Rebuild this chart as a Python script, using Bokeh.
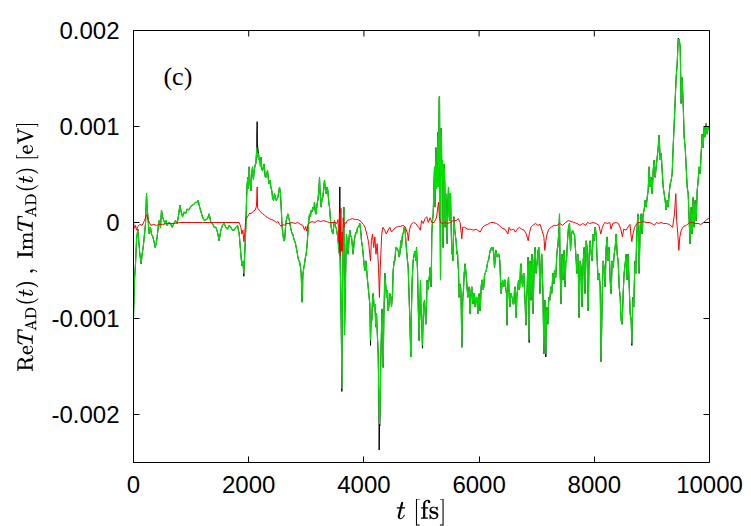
import math
from bokeh.plotting import figure
from bokeh.models import Range1d, FixedTicker, Label, ColumnDataSource, TeX
from bokeh.embed import file_html
from bokeh.resources import INLINE

# values in units of 1e-3 eV, time in fs
SCALE = 1e-3

green_a = [(0,-0.99),(17,-0.60),(35,-0.43),(52,-0.19),(64,-0.12),(75,-0.07),(93,-0.20),(110,-0.33),
           (133,-0.43),(150,-0.33),(168,-0.26),(191,-0.12),(208,-0.02),(226,0.30),(237,0.16),(255,0.02),
           (272,-0.12),(295,-0.05),(312,-0.12),(336,-0.15),(353,-0.19),(376,-0.26),(394,-0.22),(411,-0.15),
           (428,-0.05),(446,0.02),(469,-0.05),(486,0.13),(503,0.06),(527,0.02),(544,-0.01),(567,0.02),
           (584,-0.03),(613,0.00),(642,-0.01),(671,-0.05),(700,-0.01),(729,0.02),(758,-0.01),(787,0.09),
           (804,0.18),(828,0.11),(851,0.06),(874,0.11),(903,0.09),(932,0.14),(961,0.13),(990,0.16),
           (1019,0.18),(1047,0.19),(1076,0.21),(1105,0.21),(1123,0.23),(1140,0.18),(1163,0.13),(1186,0.08),
           (1209,0.04),(1232,0.02),(1256,0.03)]
green_b = [(1285,0.04),(1314,0.09),(1343,0.00),(1372,-0.01),(1401,-0.05),(1430,-0.05),(1458,-0.10),
           (1487,-0.19),(1516,-0.08),(1545,-0.03),(1574,-0.01),(1603,-0.05),(1632,-0.07),(1661,-0.03),
           (1690,-0.05),(1719,-0.08),(1748,-0.08),(1777,-0.05),(1806,-0.03),(1835,-0.12),(1864,-0.33),
           (1881,-0.45),(1898,-0.40),(1916,-0.53),(1933,-0.30),(1950,-0.05),(1962,0.23),(1973,0.40),
           (1985,0.47),(1997,0.35),(2008,0.58),(2026,0.40),(2043,0.33),(2054,0.51),(2066,0.58),(2083,0.45),
           (2095,0.54),(2112,0.60),(2124,0.61),(2141,0.78),(2153,0.68),(2170,0.72),(2182,0.65),(2193,0.65),
           (2205,0.58),(2216,0.68),(2228,0.55),(2240,0.54),(2257,0.58),(2269,0.61),(2286,0.48),(2298,0.47),
           (2315,0.51),(2327,0.54),(2344,0.44),(2355,0.40),(2373,0.44),(2384,0.37),(2402,0.33),(2413,0.26),
           (2431,0.23),(2448,0.30),(2477,0.23),(2506,0.26)]
green_c = [(2535,0.37),(2552,0.30),(2564,0.16),(2581,-0.05),(2593,-0.12),(2610,-0.19),(2622,-0.19),
           (2639,-0.05),(2651,0.02),(2668,0.06),(2679,0.09),(2697,0.04),(2708,0.02),(2726,-0.05),
           (2737,-0.08),(2755,-0.12),(2766,-0.12),(2784,-0.17),(2795,-0.19),(2813,-0.22),(2824,-0.26),
           (2842,-0.31),(2853,-0.36),(2870,-0.40),(2882,-0.40),(2899,-0.47),(2911,-0.53),(2928,-0.83),
           (2940,-0.55),(2957,-0.47),(2969,-0.43),(2986,-0.36),(2998,-0.33),(3015,-0.22),(3027,-0.12),
           (3044,0.02),(3056,0.09),(3073,0.06),(3085,0.13),(3102,0.11),(3114,0.16),(3131,0.13),(3142,0.21),
           (3160,0.09),(3171,0.09),(3189,0.20),(3200,0.23),(3218,0.33),(3229,0.47),(3241,0.30),(3258,0.16),
           (3276,0.26),(3287,0.26),(3304,0.37),(3316,0.44),(3333,0.33),(3345,0.30),(3362,0.37),(3374,0.33),
           (3391,0.21),(3403,0.16),(3420,0.02),(3432,-0.05),(3449,-0.10),(3461,-0.12),(3478,-0.03),
           (3490,0.02),(3507,-0.05),(3519,-0.05),(3536,-0.12),(3547,-0.15),(3565,-0.29),(3576,-0.33),
           (3588,-0.40),(3600,-0.78),(3611,-1.30),(3617,-1.73),(3628,-0.60),(3640,-0.20),(3652,0.16),
           (3663,-1.17),(3675,-0.80),(3687,-0.40),(3698,-0.12)]
green_d = [(3715,-0.26),(3727,-0.33),(3744,-0.15),(3756,-0.08),(3773,-0.15),(3785,-0.15),(3802,-0.26),
           (3814,-0.33),(3831,-0.20),(3843,-0.15),(3860,-0.10),(3872,-0.12),(3889,-0.05),(3900,-0.05),
           (3918,-0.03),(3929,-0.01),(3947,-0.10),(3958,-0.19),(3976,-0.26),(3987,-0.33),(4005,-0.45),
           (4016,-0.50),(4034,-0.40),(4045,-0.47),(4062,-0.60),(4074,-0.67),(4091,-0.78),(4103,-0.85),
           (4115,-1.23),(4126,-1.00),(4138,-1.02),(4149,-0.80),(4161,-0.74),(4178,-0.88),(4190,-0.85),
           (4207,-1.09),(4219,-0.95),(4236,-1.20),(4248,-1.37),(4259,-1.80),(4271,-2.10),(4282,-1.95),
           (4294,-1.40),(4306,-1.10),(4317,-0.90),(4329,-1.20),(4335,-1.51),(4346,-1.00),(4364,-0.53),
           (4381,-0.67),(4392,-0.78),(4410,-0.71),(4421,-0.92),(4439,-0.85),(4450,-0.74),(4468,-0.78),
           (4479,-0.88),(4497,-0.74),(4508,-0.50),(4526,-0.40),(4537,-0.40),(4554,-0.26),(4566,-0.26),
           (4583,-0.29),(4595,-0.29),(4612,-0.36),(4624,-0.33),(4641,-0.19),(4653,-0.26),(4670,-0.12),
           (4682,-0.12),(4699,-0.05),(4711,-0.05),(4728,-0.19),(4740,-0.29),(4757,-0.40),(4769,-0.47),
           (4786,-0.80),(4798,-1.02),(4814,-1.40),(4826,-0.90),(4838,-0.60),(4855,-0.40),(4873,-0.33),
           (4884,-0.30),(4902,-0.40),(4913,-0.26),(4931,-0.50),(4942,-0.85),(4959,-1.23),(4971,-0.90)]
green_e = [(4982,-0.60),(4994,-0.95),(5006,-1.10),(5017,-1.28),(5029,-1.00),(5041,-0.85),(5052,-0.81),
           (5064,-0.95),(5075,-1.06),(5087,-0.85),(5098,-0.60),(5110,-0.70),(5122,-0.64),(5139,-0.55),
           (5150,-0.47),(5168,-0.67),(5179,-0.12),(5191,0.02),(5203,0.09),(5214,0.33),(5226,0.58),
           (5237,0.16),(5249,0.78),(5261,0.35),(5272,0.40),(5284,0.94),(5295,0.37),(5301,0.90),(5307,1.31),
           (5313,1.31),(5319,0.60),(5324,0.02),(5330,-0.60),(5336,0.40),(5342,0.98),(5347,0.85),(5353,0.50),
           (5365,0.65),(5376,-0.26),(5382,0.05),(5394,0.61),(5405,0.40),(5411,-0.05),(5422,0.30),(5428,0.16),
           (5440,-0.10),(5446,-0.22),(5457,0.20),(5469,0.37),(5480,0.10),(5486,0.02),(5498,0.30),(5504,0.30),
           (5515,-0.05),(5527,-0.33),(5538,-0.30),(5544,-0.40),(5556,-0.10),(5561,0.06),(5573,-0.05),
           (5585,-0.12),(5602,-0.20),(5613,-0.33),(5625,-0.30),(5631,-0.40),(5642,-0.50),(5654,-0.78),
           (5666,-0.70),(5671,-0.64),(5683,-0.70),(5689,-0.85),(5700,-1.30),(5712,-0.90),(5718,-0.78),
           (5729,-0.70),(5741,-0.53),(5758,-0.43),(5776,-0.55),(5787,-0.64),(5804,-0.78),(5816,-0.74),
           (5828,-0.67),(5845,-0.95),(5862,-0.70),(5874,-0.67),(5891,-0.85),(5903,-0.74),(5914,-0.74),
           (5932,-0.88),(5949,-0.78),(5961,-0.78),(5978,-0.95),(5990,-0.81),(6001,-0.74),(6019,-0.92),
           (6036,-0.67),(6048,-0.60),(6059,-0.60),(6071,-0.70),(6082,-0.67),(6094,-0.55),(6105,-0.53),
           (6123,-0.50),(6134,-0.47),(6152,-0.40),(6163,-0.40),(6181,-0.33),(6192,-0.29)]
green_f = [(6215,-0.26),(6227,-0.29),(6244,-0.26),(6256,-0.33),(6267,-0.47),(6279,-0.40),(6291,-0.29),
           (6302,-0.33),(6314,-0.36),(6331,-0.33),(6343,-0.33),(6360,-0.40),(6372,-0.60),(6383,-0.74),
           (6395,-0.67),(6406,-0.60),(6418,-0.64),(6429,-0.67),(6441,-0.60),(6453,-0.60),(6464,-0.70),
           (6476,-0.74),(6487,-1.07),(6499,-0.64),(6511,-0.57),(6522,-0.74),(6534,-0.88),(6545,-0.74),
           (6557,-0.74),(6568,-0.78),(6580,-0.78),(6591,-0.85),(6603,-0.85),(6615,-0.70),(6626,-0.67),
           (6638,-0.78),(6644,-0.99),(6655,-0.78),(6661,-0.74),(6673,-0.67),(6684,-0.60),(6696,-0.70),
           (6707,-0.67),(6719,-0.45),(6730,-0.43),(6742,-0.60),(6754,-0.67),(6765,-0.55),(6777,-0.53),
           (6788,-0.70),(6800,-0.85),(6811,-1.07),(6823,-0.85),(6835,-0.67),(6846,-0.40),(6852,-0.36),
           (6863,-0.80),(6869,-1.23),(6881,-0.60),(6887,-0.40),(6898,-0.55),(6904,-0.81),(6916,-0.50),
           (6921,-0.33),(6933,-0.60),(6939,-0.95),(6950,-0.60),(6956,-0.40),(6968,-0.30),(6973,-0.26),
           (6985,-0.45),(6991,-0.53),(7002,-0.45),(7008,-0.43),(7020,-0.30),(7037,-0.26),(7049,-0.55),
           (7055,-0.74),(7066,-0.60),(7072,-0.50),(7083,-0.33),(7089,-0.33),(7101,-0.60),(7107,-0.70),
           (7118,-1.10),(7124,-1.37),(7136,-1.00),(7141,-0.81),(7153,-1.20),(7159,-1.37),(7170,-0.95),
           (7176,-0.88),(7188,-0.95),(7193,-1.06),(7205,-0.85),(7211,-0.78),(7222,-0.81),(7228,-0.81),
           (7240,-0.70),(7245,-0.67),(7257,-0.74),(7263,-0.74),(7274,-0.60),(7280,-0.53),(7292,-0.55),
           (7297,-0.64),(7309,-0.50),(7315,-0.50),(7326,-0.57),(7332,-0.57),(7344,-0.40),(7350,-0.33),
           (7361,-0.26),(7367,-0.26),(7378,-0.15),(7384,-0.12),(7396,0.09),(7401,-0.20),(7407,-0.53),
           (7419,-0.74),(7425,-0.85),(7436,-0.50),(7442,-0.33),(7454,-0.50),(7459,-0.60),(7471,-0.45),
           (7477,-0.29),(7488,-0.50),(7494,-0.67),(7506,-0.40)]
green_g = [(7517,-0.40),(7535,-0.19),(7552,-0.05),(7570,-0.01),(7587,-0.29),(7604,-0.12),(7622,-0.08),
           (7639,-0.12),(7656,-0.12),(7679,-0.33),(7697,-0.53),(7714,-0.33),(7726,-0.60),(7737,-0.99),
           (7755,-0.40),(7772,-0.47),(7789,-0.88),(7807,-0.40),(7824,-0.26),(7841,-0.74),(7859,-0.19),
           (7876,-0.26),(7894,-0.92),(7911,-0.33),(7928,-0.19),(7946,-0.33),(7963,-0.40),(7980,-0.12),
           (7998,-0.19),(8015,-0.05),(8032,-0.12),(8050,-0.40),(8067,-0.60),(8085,-0.53),(8102,-0.67),
           (8119,-1.45),(8137,-0.78),(8154,-0.40),(8171,-0.47),(8189,-0.67),(8206,-0.26),(8224,-0.15),
           (8241,-0.40),(8258,-0.26),(8275,-0.60),(8293,-0.74),(8310,-0.40),(8328,-0.47),(8345,-0.33),
           (8362,-0.26),(8380,-0.12),(8397,-0.33),(8414,-0.40),(8432,-0.67),(8449,-0.78),(8466,-1.02),
           (8484,-1.06),(8501,-0.74),(8518,-0.53),(8536,-0.43),(8553,-0.33),(8571,-0.60),(8588,-0.33),
           (8605,-0.64),(8623,-0.95),(8640,-1.02),(8652,-1.26),(8669,-0.78),(8686,-0.88),(8704,-0.40),
           (8721,-0.53),(8738,-0.12),(8756,0.09)]
green_h = [(8779,-0.53),(8796,-0.05),(8814,0.09),(8831,-0.12),(8848,0.09),(8866,0.13),(8883,0.23),
           (8901,0.16),(8918,0.26),(8935,0.33),(8953,0.58),(8970,0.37),(8987,0.47),(9005,0.30),(9022,0.54),
           (9039,0.65),(9057,0.47),(9074,0.58),(9092,0.68),(9109,0.78),(9126,0.91),(9144,0.65),(9161,0.72),
           (9178,0.54),(9196,0.37),(9213,0.30),(9230,0.23),(9248,0.13),(9265,0.23),(9282,0.16),(9300,0.30),
           (9317,0.40),(9335,0.44),(9352,0.51),(9369,0.78),(9387,1.03),(9404,1.27),(9421,1.51),(9439,1.65),
           (9456,1.90),(9473,1.91),(9491,1.83),(9508,1.24),(9525,1.51),(9543,1.24),(9560,0.89),(9578,0.78),
           (9595,0.58),(9612,0.37),(9630,0.30),(9647,0.02),(9664,-0.22),(9682,0.16),(9699,-0.12),
           (9716,0.26),(9734,-0.05),(9751,0.23),(9769,0.02),(9786,0.33),(9803,0.44),(9821,0.58),(9838,0.51),
           (9855,0.72),(9873,0.92),(9890,0.78),(9907,0.99),(9925,0.89),(9942,1.03),(9960,0.92),(9977,0.99),
           (10000,0.97)]

# points where the black curve departs from the green one
black_extra = [(1916,-0.56),(2141,0.90),(2147,1.05),(2153,0.80),(3582,0.37),(3617,-1.76),(4115,-1.28),
               (4265,-2.37),(4277,-2.12),(5017,-1.31),(6869,-1.25),(7159,-1.40),(8652,-1.28),(9456,1.92)]

red_pts = [(0,0.00),(17,-0.06),(35,-0.03),(52,-0.08),(75,-0.04),(110,-0.02),(150,-0.03),(190,0.02),
           (226,0.08),(260,0.02),(300,-0.03),(350,-0.02),(400,-0.03),(450,-0.02),(500,-0.02),(600,-0.01),
           (700,-0.01),(800,0.00),(1000,0.00),(1200,0.00),(1400,0.00),(1600,0.00),(1835,0.00),
           (1864,-0.05),(1880,-0.12),(1898,-0.08),(1916,-0.20),(1933,-0.10),(1950,0.05),(1973,0.05),
           (1997,0.08),(2020,0.10),(2040,0.09),(2066,0.11),(2090,0.12),(2112,0.13),(2135,0.17),(2147,0.37),
           (2155,0.15),(2170,0.14),(2190,0.12),(2210,0.11),(2240,0.09),(2270,0.08),(2300,0.06),(2330,0.05),
           (2360,0.04),(2400,0.03),(2440,0.02),(2480,0.00),(2510,0.01),(2535,-0.02),(2565,-0.04),
           (2590,-0.02),(2620,-0.03),(2650,-0.01),(2700,-0.01),(2750,0.00),(2800,-0.01),(2850,0.00),
           (2900,-0.02),(2940,-0.03),(2970,-0.08),(2990,-0.04),(3010,-0.09),(3030,-0.02),(3060,0.00),
           (3100,0.01),(3150,0.00),(3200,0.02),(3250,0.01),(3300,0.02),(3350,0.01),(3400,0.00),(3500,0.00),
           (3530,-0.01),(3550,0.03),(3565,-0.20),(3575,0.10),(3590,-0.35),(3600,0.15),(3610,-0.30),
           (3620,-0.10),(3630,-0.30),(3640,0.05),(3655,-0.05),(3670,0.00),(3690,-0.01),(3710,0.02),
           (3750,0.03),(3800,0.04),(3850,0.03),(3900,0.03),(3950,0.01),(3990,-0.02),(4020,-0.05),
           (4050,-0.12),(4080,-0.20),(4103,-0.33),(4115,-0.40),(4130,-0.19),(4150,-0.12),(4170,-0.26),
           (4190,-0.15),(4210,-0.33),(4230,-0.22),(4254,-0.47),(4270,-0.78),(4282,-0.50),(4294,-0.33),
           (4310,-0.12),(4330,-0.05),(4360,-0.08),(4390,-0.12),(4420,-0.08),(4450,-0.05),(4480,-0.10),
           (4520,-0.07),(4560,-0.05),(4600,-0.04),(4640,-0.04),(4680,-0.03),(4720,-0.05),(4760,-0.12),
           (4770,-0.19),(4790,-0.08),(4820,-0.02),(4860,0.00),(4900,-0.01),(4950,-0.05),(4980,-0.08),
           (5000,0.02),(5030,-0.01),(5060,0.04),(5090,0.06),(5120,0.00),(5150,0.05),(5180,0.00),(5220,0.00),
           (5260,0.05),(5295,0.21),(5310,0.06),(5330,0.00),(5360,-0.01),(5400,0.00),(5450,-0.01),(5500,0.00),
           (5550,0.02),(5600,0.02),(5640,0.04),(5670,0.00),(5700,-0.17),(5715,-0.05),(5750,-0.05),
           (5800,-0.07),(5850,-0.07),(5900,-0.08),(5950,-0.07),(6018,-0.10),(6060,-0.05),(6100,-0.03),
           (6150,-0.02),(6200,0.00),(6250,0.00),(6300,-0.01),(6350,-0.03),(6400,-0.06),(6450,-0.07),
           (6500,-0.12),(6520,-0.05),(6550,-0.08),(6600,-0.07),(6630,-0.10),(6660,-0.07),(6700,-0.05),
           (6740,-0.07),(6780,-0.08),(6820,-0.12),(6852,-0.19),(6870,-0.12),(6900,-0.05),(6930,-0.03),
           (6980,-0.01),(7020,-0.03),(7060,-0.02),(7090,-0.08),(7125,-0.15),(7141,-0.29),(7160,-0.19),
           (7180,-0.12),(7210,-0.07),(7250,-0.05),(7300,-0.03),(7350,-0.03),(7400,-0.01),(7450,-0.03),
           (7500,0.00),(7550,0.02),(7600,0.01),(7650,0.00),(7700,-0.01),(7750,-0.03),(7800,-0.01),
           (7850,-0.03),(7880,0.00),(7920,-0.01),(7980,0.00),(8030,-0.01),(8080,-0.03),(8113,-0.12),
           (8140,-0.05),(8180,0.00),(8230,-0.01),(8270,0.00),(8290,-0.07),(8320,-0.01),(8380,0.00),
           (8420,-0.01),(8460,-0.07),(8489,-0.15),(8510,-0.07),(8550,-0.08),(8580,-0.05),(8620,-0.02),
           (8640,-0.15),(8652,-0.20),(8670,-0.12),(8700,-0.05),(8730,-0.02),(8760,0.00),(8800,0.00),
           (8850,0.01),(8900,0.00),(8950,0.00),(9000,-0.01),(9045,-0.03),(9080,0.00),(9120,-0.01),
           (9160,0.00),(9200,-0.01),(9250,-0.01),(9300,-0.02),(9360,-0.05),(9392,0.09),(9415,0.30),
           (9430,0.02),(9450,-0.12),(9467,-0.29),(9485,-0.15),(9510,-0.08),(9550,-0.04),(9600,-0.03),
           (9650,0.00),(9700,0.00),(9750,-0.01),(9800,-0.01),(9850,-0.02),(9900,0.00),(9950,0.03),
           (10000,0.05)]

x_range = (0, 10000)
y_range = (-0.0025, 0.002)
x_ticks = [0, 2000, 4000, 6000, 8000, 10000]
y_ticks = [-0.002, -0.001, 0.0, 0.001, 0.002]
y_tick_labels = ["-0.002", "-0.001", "0", "0.001", "0.002"]
panel_tag = "(c)"

green = green_a + green_b + green_c + green_d + green_e + green_f + green_g + green_h
black = sorted(green + black_extra)

def src(pts):
    return ColumnDataSource(dict(t=[a for a, _ in pts], v=[b * SCALE for _, b in pts]))

p = figure(frame_width=576, frame_height=432, output_backend="svg", toolbar_location=None,
           x_range=Range1d(*x_range), y_range=Range1d(*y_range),
           min_border_left=133, min_border_right=34, min_border_top=30, min_border_bottom=60,
           background_fill_color="white", border_fill_color="white")
p.xgrid.visible = False
p.ygrid.visible = False
p.outline_line_color = "black"
p.outline_line_width = 1
p.outline_line_alpha = 1

p.line("t", "v", source=src(black), color="black", line_width=1)
p.line("t", "v", source=src(green), color="#00e000", line_width=1.2)
p.line("t", "v", source=src(red_pts), color="#ff0000", line_width=1)

# mirrored inward ticks on the top and right edges of the frame
p.ray(x=x_ticks, y=[y_range[1]] * len(x_ticks), length=6, length_units="screen",
      angle=-math.pi / 2, color="black", line_width=1)
p.ray(x=[x_range[1]] * len(y_ticks), y=y_ticks, length=6, length_units="screen",
      angle=math.pi, color="black", line_width=1)

font = "Liberation Sans"
for ax in [p.xaxis[0], p.yaxis[0]]:
    ax.major_tick_in = 6
    ax.major_tick_out = 0
    ax.minor_tick_in = 0
    ax.minor_tick_out = 0
    ax.axis_line_color = "black"
    ax.major_tick_line_color = "black"
    ax.major_label_text_font = font
    ax.major_label_text_font_size = "24px"
    ax.major_label_text_color = "black"
    ax.axis_label_text_color = "black"
    ax.axis_label_text_font_style = "normal"

p.xaxis[0].ticker = FixedTicker(ticks=x_ticks)
p.xaxis[0].major_label_standoff = 13
p.xaxis[0].axis_label = TeX(text=r"t\ [\mathrm{fs}]")
p.xaxis[0].axis_label_text_font_size = "22px"
p.xaxis[0].axis_label_standoff = 3

p.yaxis[0].ticker = FixedTicker(ticks=y_ticks)
p.yaxis[0].major_label_overrides = {t: s for t, s in zip(y_ticks, y_tick_labels)}
p.yaxis[0].major_label_standoff = 14
p.yaxis[0].axis_label = TeX(text=r"\mathrm{Re}T_{\mathrm{AD}}(t)\ ,\ \mathrm{Im}T_{\mathrm{AD}}(t)\ [\mathrm{eV}]")
p.yaxis[0].axis_label_text_font_size = "18px"
p.yaxis[0].axis_label_standoff = 10

p.add_layout(Label(x=520, y=0.00152, text=panel_tag, text_font="Liberation Serif",
                   text_font_size="26px", text_baseline="middle", text_align="left",
                   text_color="black"))

open("out.html", "w").write(file_html(p, INLINE))
